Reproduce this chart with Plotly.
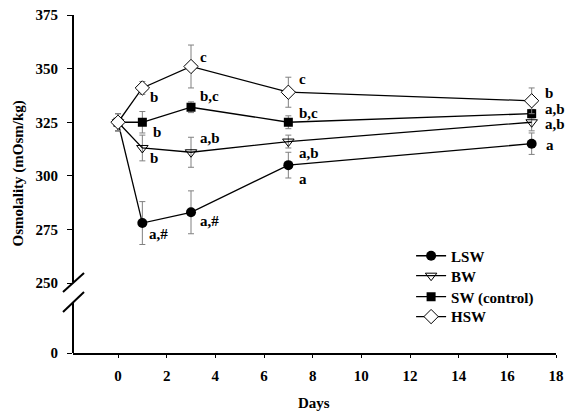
import plotly.graph_objects as go

days = [0, 1, 3, 7, 17]

lsw = [325, 278, 283, 305, 315]
lsw_err = [4, 10, 10, 6, 5]
lsw_lbl = [None, "a,#", "a,#", "a", "a"]

bw = [325, 313, 311, 316, 325]
bw_err = [4, 6, 7, 3, 4]
bw_lbl = [None, "b", "a,b", "a,b", "a,b"]

sw = [325, 325, 332, 325, 329]
sw_err = [4, 5, 2.5, 3, 2]
sw_lbl = [None, "b", "b,c", "b,c", "a,b"]

hsw = [325, 341, 351, 339, 335]
hsw_err = [4, 3, 10, 7, 6]
hsw_lbl = [None, "b", "c", "c", "b"]

ytick_vals = [217.4, 250, 275, 300, 325, 350, 375]
ytick_text = ["0", "250", "275", "300", "325", "350", "375"]
xtick_vals = [0, 2, 4, 6, 8, 10, 12, 14, 16, 18]

FONT = "Liberation Serif, Times New Roman, serif"

series = [
    ("LSW", lsw, lsw_err, lsw_lbl, dict(symbol="circle", size=10, color="black"), "legend", 0.287),
    ("BW", bw, bw_err, bw_lbl, dict(symbol="triangle-down-open", size=10, color="black", line=dict(width=1)), "legend2", 0.228),
    ("SW (control)", sw, sw_err, sw_lbl, dict(symbol="square", size=9, color="black"), "legend3", 0.166),
    ("HSW", hsw, hsw_err, hsw_lbl, dict(symbol="diamond", size=11, color="white", line=dict(color="black", width=1)), "legend4", 0.107),
]

# label offsets in pixels (dx right, dy down) per series per point
offsets = {
    "LSW": [None, (5, 11), (7, 9), (9, 14), (12, 1)],
    "BW": [None, (6, 10), (7, -14), (9, 11), (11, 2)],
    "SW (control)": [None, (9, 10), (7, -11), (9, -9), (11, -5)],
    "HSW": [None, (6, 9), (7, -9), (9, -13), (11, -8)],
}

fig = go.Figure()
annotations = []
legends = {}
for name, vals, errs, lbls, mk, lg, ly in series:
    fig.add_trace(go.Scatter(
        x=days, y=vals, name=name, mode="lines+markers", legend=lg,
        line=dict(color="black", width=1.3),
        marker=mk,
        error_y=dict(type="data", array=errs, visible=True, color="#808080", thickness=1, width=3),
    ))
    legends[lg] = dict(
        x=0.7, y=ly, xanchor="left", yanchor="middle",
        font=dict(family=FONT, size=15, color="black", weight="bold"),
        bgcolor="rgba(0,0,0,0)",
    )
    for i, lab in enumerate(lbls):
        if lab is None:
            continue
        dx, dy = offsets[name][i]
        annotations.append(dict(
            x=days[i], y=vals[i], xref="x", yref="y", text=lab, showarrow=False,
            xanchor="left", yanchor="middle", xshift=dx, yshift=-dy,
            font=dict(family=FONT, size=15, color="black", weight="bold"),
        ))

annotations.append(dict(
    x=-0.112, y=0.531, xref="paper", yref="paper", text="Osmolality (mOsm/kg)",
    showarrow=False, textangle=-90, xanchor="center", yanchor="middle",
    font=dict(family=FONT, size=15, color="black", weight="bold"),
))
annotations.append(dict(
    x=0.498, y=-0.148, xref="paper", yref="paper", text="Days",
    showarrow=False, xanchor="center", yanchor="middle",
    font=dict(family=FONT, size=15, color="black", weight="bold"),
))

shapes = [
    # y axis line with break
    dict(type="line", xref="paper", yref="y", x0=0, x1=0, y0=250.3, y1=375, line=dict(color="black", width=2)),
    dict(type="line", xref="paper", yref="y", x0=0, x1=0, y0=217.4, y1=241.2, line=dict(color="black", width=2)),
    # break marks
    dict(type="line", xref="paper", yref="y", x0=-0.0207, x1=0.0228, y0=245.8, y1=254.7, line=dict(color="black", width=2)),
    dict(type="line", xref="paper", yref="y", x0=-0.0207, x1=0.0228, y0=236.5, y1=245.8, line=dict(color="black", width=2)),
]

fig.update_layout(
    width=565, height=415,
    margin=dict(l=73, r=9, t=15, b=62, autoexpand=False),
    paper_bgcolor="white", plot_bgcolor="white",
    showlegend=True,
    annotations=annotations,
    shapes=shapes,
    xaxis=dict(
        range=[-1.85, 18], tickvals=xtick_vals, ticks="outside", ticklen=3, tickcolor="black",
        showline=True, linecolor="black", linewidth=2, showgrid=False, zeroline=False,
        tickfont=dict(family=FONT, size=15, color="black", weight="bold"),
        ticklabelstandoff=5, ticklabeloverflow="allow", automargin=False,
    ),
    yaxis=dict(
        range=[217.4, 375.01], tickvals=ytick_vals, ticktext=ytick_text, ticks="outside", ticklen=5,
        tickcolor="black", showline=False, showgrid=False, zeroline=False,
        tickfont=dict(family=FONT, size=15, color="black", weight="bold"),
        ticklabelstandoff=6, ticklabeloverflow="allow", automargin=False,
    ),
    **legends,
)

fig.write_html(
    "out.html",
    config={"displayModeBar": False},
    post_script="document.body.style.margin='0';document.documentElement.style.overflow='hidden';",
)
